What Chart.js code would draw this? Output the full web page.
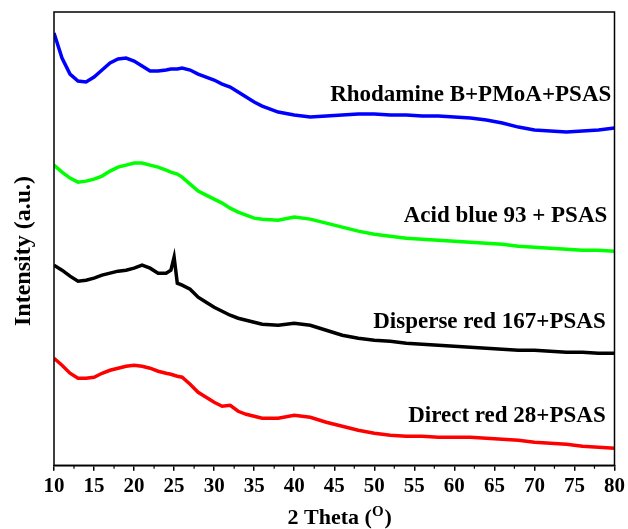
<!DOCTYPE html>
<html>
<head>
<meta charset="utf-8">
<script src="https://cdn.jsdelivr.net/npm/chart.js@4.4.0/dist/chart.umd.min.js"></script>
<style>
  html, body { margin: 0; padding: 0; background: #fff; }
  #wrap { width: 628px; height: 529px; }
</style>
</head>
<body>
<div id="wrap"><canvas id="xrd"></canvas></div>
<script>
// 2 theta (degrees), shared by all four patterns
const theta = [10, 11, 12, 13, 14, 15, 16, 17, 18, 19, 20, 21, 22, 23, 24, 24.6, 25, 25.4,
  26, 27, 28, 29, 30, 31, 32, 33, 34, 35, 36, 38, 40, 42, 44, 46, 48, 50, 52, 54, 56, 58,
  60, 62, 64, 66, 68, 70, 72, 74, 76, 78, 80];

// intensities (a.u., stacked offsets as in the figure)
const rhodamine = [432, 407, 391, 384, 383, 388, 395, 402, 406, 407, 404, 399, 394, 394, 395, 396, 396, 396,
  397, 395, 391, 388, 385, 381, 378, 373, 368, 363, 359, 353, 350, 348, 349, 350, 351, 351, 350, 350, 349, 349,
  348, 347, 345, 342, 338, 335, 334, 333, 334, 335, 337];
const acidBlue = [300, 293, 287, 283, 284, 286, 289, 294, 298, 300, 302, 302, 300, 298, 295, 293, 292, 291,
  288, 281, 274, 270, 266, 262, 257, 253, 250, 247, 246, 245, 248, 246, 242, 238, 234, 231, 229, 227, 226, 225,
  224, 223, 222, 221, 219, 218, 217, 216, 215, 215, 214];
const disperseRed = [200, 195, 189, 184, 185, 187, 190, 192, 194, 195, 197, 200, 197, 192, 192, 195, 208, 182,
  180, 176, 168, 163, 158, 154, 150, 147, 145, 143, 141, 140, 142, 140, 135, 130, 127, 125, 124, 122, 121, 120,
  119, 118, 117, 116, 115, 115, 114, 113, 113, 112, 112];
const directRed = [107, 100, 92, 87, 87, 88, 92, 95, 97, 99, 100, 99, 97, 94, 92, 91, 90, 89,
  88, 81, 73, 68, 63, 59, 60, 54, 51, 49, 47, 47, 50, 48, 43, 39, 35, 32, 30, 29, 29, 28,
  28, 28, 27, 26, 25, 23, 22, 21, 19, 18, 17];

const seriesNames = ['Rhodamine B+PMoA+PSAS', 'Acid blue 93 + PSAS', 'Disperse red 167+PSAS', 'Direct red 28+PSAS'];
const seriesColors = ['#0000ff', '#00ff00', '#000000', '#ff0000'];
const xTicks = [10, 15, 20, 25, 30, 35, 40, 45, 50, 55, 60, 65, 70, 75, 80];

const serif = '"Liberation Serif", "Times New Roman", serif';

const toPoints = vals => vals.map((v, i) => ({x: theta[i], y: v}));

// frame, minor ticks, curve labels and axis titles
const decorations = {
  id: 'decorations',
  afterDraw(chart) {
    const {ctx, chartArea: a, scales: {x, y}} = chart;
    ctx.save();
    ctx.strokeStyle = '#000';
    ctx.lineWidth = 1.5;
    ctx.strokeRect(a.left, a.top, a.right - a.left, a.bottom - a.top);

    ctx.lineWidth = 1.2;
    for (let v = 12.5; v < 80; v += 5) {
      const px = x.getPixelForValue(v);
      ctx.beginPath();
      ctx.moveTo(px, a.bottom);
      ctx.lineTo(px, a.bottom + 3.5);
      ctx.stroke();
    }

    const anchors = [[79.6, 364], [79.1, 243], [78.9, 137], [78.9, 43]];
    ctx.fillStyle = '#000';
    ctx.font = 'bold 23px ' + serif;
    ctx.textAlign = 'right';
    ctx.textBaseline = 'alphabetic';
    seriesNames.forEach((name, i) => {
      ctx.fillText(name, x.getPixelForValue(anchors[i][0]), y.getPixelForValue(anchors[i][1]));
    });

    // x title with superscript O
    const big = 'bold 22px ' + serif, small = 'bold 15px ' + serif;
    ctx.textAlign = 'left';
    ctx.font = big;
    const w1 = ctx.measureText('2 Theta (').width, w3 = ctx.measureText(')').width;
    ctx.font = small;
    const w2 = ctx.measureText('O').width;
    const cx = (a.left + a.right) / 2 + 5;
    const sx = cx - (w1 + w2 + w3) / 2;
    const base = 524;
    ctx.font = big;
    ctx.fillText('2 Theta (', sx, base);
    ctx.font = small;
    ctx.fillText('O', sx + w1, base - 8);
    ctx.font = big;
    ctx.fillText(')', sx + w1 + w2 + 1, base);

    // y title
    ctx.translate(24, 251);
    ctx.rotate(-Math.PI / 2);
    ctx.textAlign = 'center';
    ctx.textBaseline = 'middle';
    ctx.font = 'bold 24px ' + serif;
    ctx.fillText('Intensity (a.u.)', 0, 0);
    ctx.restore();
  }
};

new Chart(document.getElementById('xrd'), {
  type: 'line',
  data: {
    datasets: [rhodamine, acidBlue, disperseRed, directRed].map((vals, i) => ({
      label: seriesNames[i],
      data: toPoints(vals),
      borderColor: seriesColors[i],
      borderWidth: 3.5,
      pointRadius: 0,
      tension: 0,
      fill: false
    }))
  },
  options: {
    responsive: true,
    maintainAspectRatio: false,
    animation: false,
    layout: { padding: { left: 54, right: 12.5, top: 12, bottom: 27 } },
    plugins: { legend: { display: false }, tooltip: { enabled: false } },
    scales: {
      x: {
        type: 'linear',
        min: 10,
        max: 80,
        afterBuildTicks: axis => { axis.ticks = xTicks.map(v => ({value: v})); },
        grid: { display: true, drawOnChartArea: false, drawTicks: true, tickLength: 5.5, color: '#000', lineWidth: 1.5 },
        border: { display: true, color: '#000', width: 1.5 },
        ticks: {
          color: '#000',
          padding: 3,
          maxRotation: 0,
          autoSkip: false,
          font: { family: serif, size: 21, weight: 'bold' }
        }
      },
      y: {
        display: false,
        min: 0,
        max: 453
      }
    }
  },
  plugins: [decorations]
});
</script>
</body>
</html>
